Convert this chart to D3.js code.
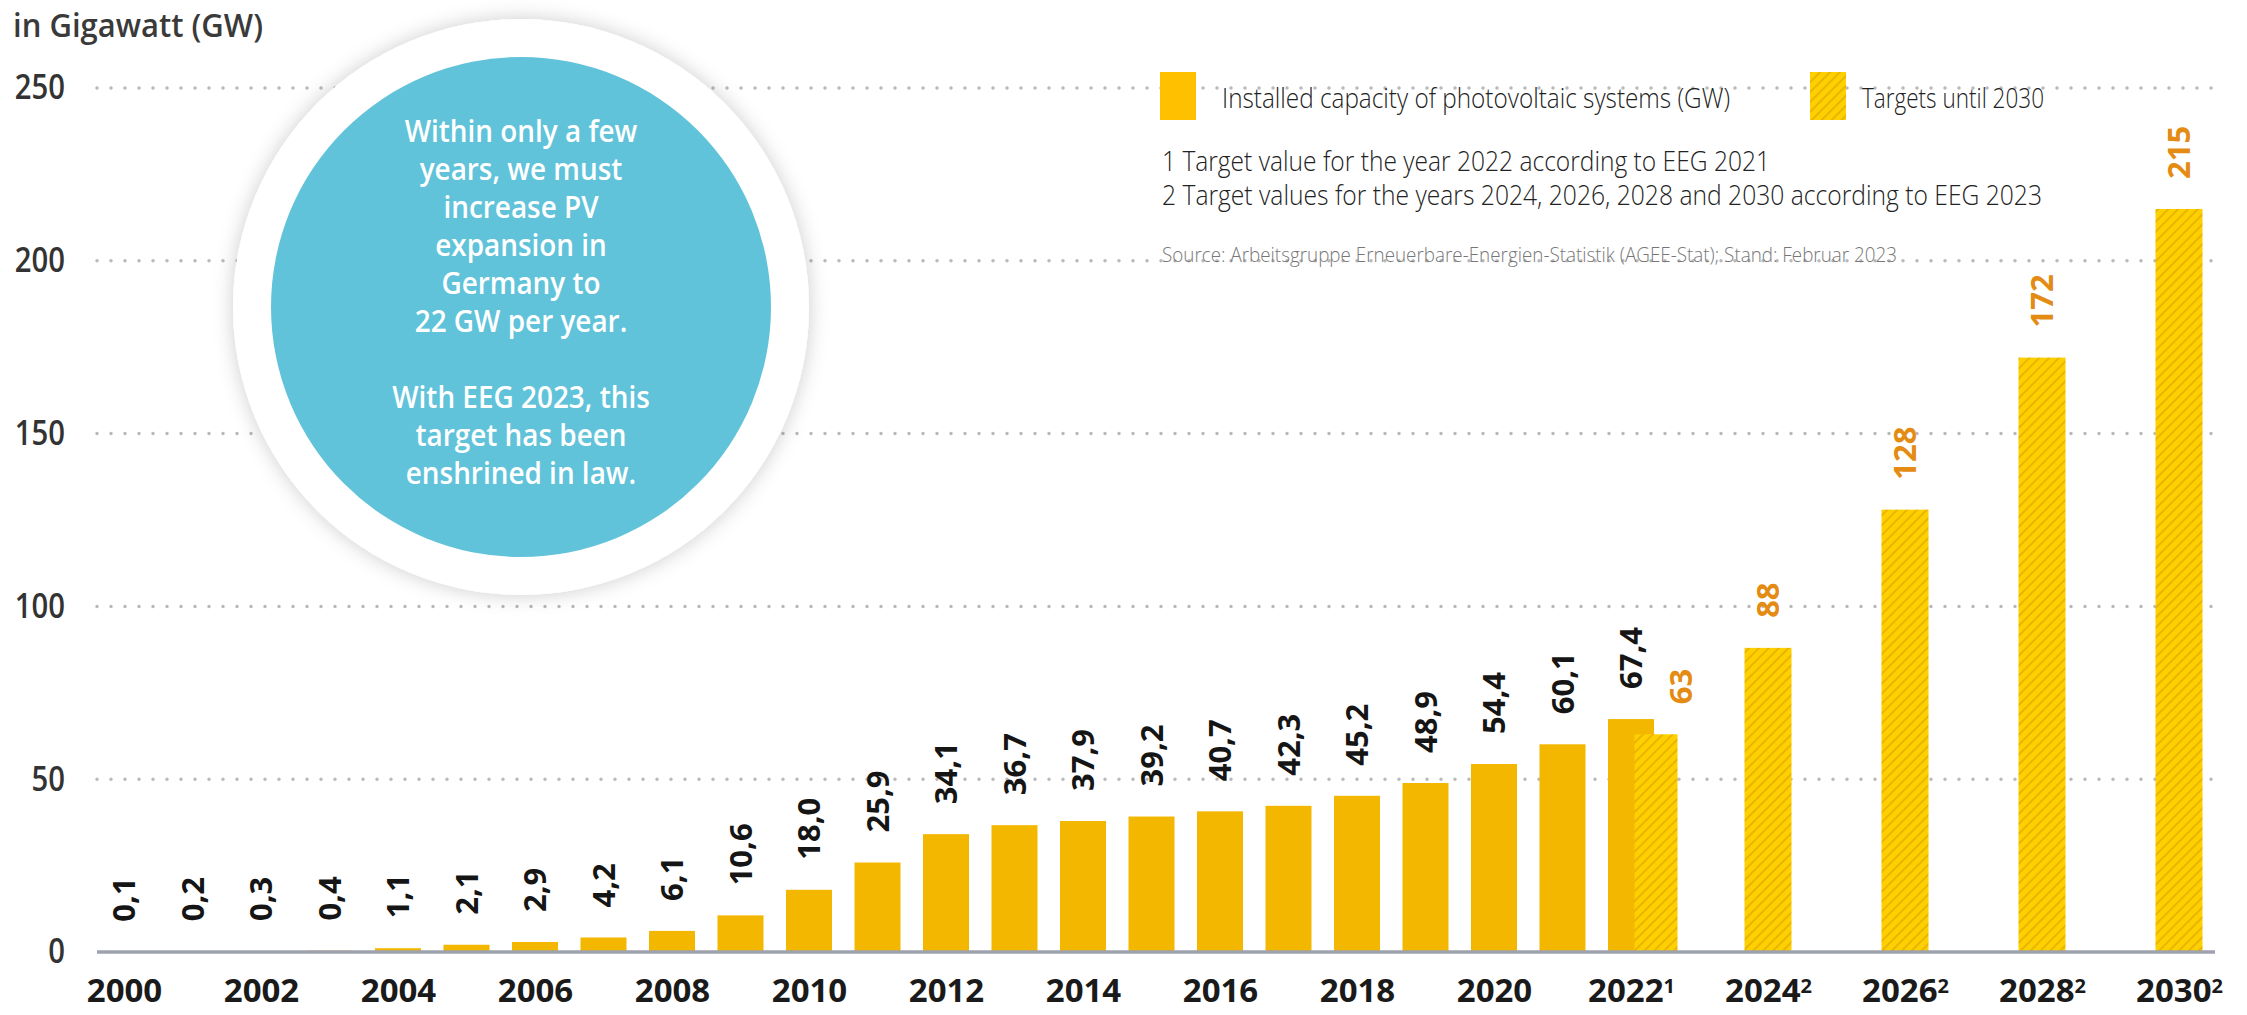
<!DOCTYPE html>
<meta charset="utf-8">
<style>
    body {
        margin: 0;
        overflow: hidden;
        background: #fff;
    }

    text {
        font-family: "Open Sans", sans-serif;
    }
</style>
<div id="container"></div>
<script src="https://cdn.jsdelivr.net/npm/d3@7"></script>
<script>
    // installed PV capacity per year (GW)
    const years = [2000, 2001, 2002, 2003, 2004, 2005, 2006, 2007, 2008, 2009, 2010, 2011,
        2012, 2013, 2014, 2015, 2016, 2017, 2018, 2019, 2020, 2021, 2022];
    const installed = [0.1, 0.2, 0.3, 0.4, 1.1, 2.1, 2.9, 4.2, 6.1, 10.6, 18.0, 25.9,
        34.1, 36.7, 37.9, 39.2, 40.7, 42.3, 45.2, 48.9, 54.4, 60.1, 67.4];

    // targets (EEG 2021 / EEG 2023)
    const targetYears = [2022, 2024, 2026, 2028, 2030];
    const targetValues = [63, 88, 128, 172, 215];

    // axis ticks
    const tickYears = [2000, 2002, 2004, 2006, 2008, 2010, 2012, 2014, 2016, 2018, 2020, 2022, 2024, 2026, 2028, 2030];
    const tickNotes = ["", "", "", "", "", "", "", "", "", "", "", "1", "2", "2", "2", "2"];
    const yTicks = [0, 50, 100, 150, 200, 250];

    const circleLines = ["Within only a few", "years, we must", "increase PV", "expansion in", "Germany to",
        "22 GW per year.", "", "With EEG 2023, this", "target has been", "enshrined in law."];
    const legendLabels = ["Installed capacity of photovoltaic systems (GW)", "Targets until 2030"];
    const footnotes = ["1 Target value for the year 2022 according to EEG 2021",
        "2 Target values for the years 2024, 2026, 2028 and 2030 according to EEG 2023"];
    const source = "Source: Arbeitsgruppe Erneuerbare-Energien-Statistik (AGEE-Stat); Stand: Februar 2023";

    const width = 2247, height = 1015;
    const barW = 46;
    const fmt = v => d3.format(".1f")(v).replace(".", ",");

    const x = d3.scaleLinear().domain([2000, 2030]).range([124, 2179]);
    const y = d3.scaleLinear().domain([0, 250]).range([952, 88]);

    const svg = d3.select("#container").append("svg")
        .attr("width", width)
        .attr("height", height)
        .style("background", "#fff");

    const defs = svg.append("defs");
    const pat = defs.append("pattern")
        .attr("id", "hatch")
        .attr("patternUnits", "userSpaceOnUse")
        .attr("width", 7).attr("height", 7)
        .attr("patternTransform", "rotate(45)");
    pat.append("rect").attr("width", 7).attr("height", 7).attr("fill", "#fdd000");
    pat.append("line").attr("x1", 1).attr("x2", 1).attr("y1", 0).attr("y2", 7)
        .attr("stroke", "#ecb400").attr("stroke-width", 2);

    const shadow = defs.append("filter").attr("id", "shadow")
        .attr("x", "-20%").attr("y", "-20%").attr("width", "140%").attr("height", "140%");
    shadow.append("feDropShadow").attr("dx", 0).attr("dy", 0).attr("stdDeviation", 10)
        .attr("flood-color", "#000").attr("flood-opacity", 0.2);

    // squeeze text horizontally (the source picture is condensed)
    function squeeze(sel, k) {
        sel.each(function () {
            const l = this.getComputedTextLength();
            d3.select(this).attr("textLength", l * k).attr("lengthAdjust", "spacingAndGlyphs");
        });
    }

    // gridlines
    svg.append("g")
        .selectAll("line")
        .data(yTicks.filter(d => d > 0))
        .join("line")
        .attr("x1", 97).attr("x2", 2215)
        .attr("y1", d => y(d)).attr("y2", d => y(d))
        .attr("stroke", "#b9b9b9")
        .attr("stroke-width", 3.5)
        .attr("stroke-linecap", "round")
        .attr("stroke-dasharray", "0,14");

    // y axis labels
    const yAxis = svg.append("g")
        .attr("transform", "translate(65,0)")
        .call(d3.axisLeft(y).tickValues(yTicks).tickSize(0).tickPadding(0));
    yAxis.select(".domain").remove();
    yAxis.selectAll("text")
        .attr("font-size", 34).attr("font-weight", 600).attr("fill", "#333")
        .attr("font-family", "Open Sans");
    squeeze(yAxis.selectAll("text"), 0.86);

    // unit title
    const title = svg.append("text")
        .attr("x", 13).attr("y", 37)
        .attr("font-size", 33).attr("font-weight", 600).attr("fill", "#3a3a3a")
        .text("in Gigawatt (GW)");
    title.attr("textLength", 250).attr("lengthAdjust", "spacingAndGlyphs");

    // circle callout
    const cx = 521, cy = 307;
    svg.append("circle").attr("cx", cx).attr("cy", cy).attr("r", 288)
        .attr("fill", "#fff").attr("filter", "url(#shadow)");
    svg.append("circle").attr("cx", cx).attr("cy", cy).attr("r", 250)
        .attr("fill", "#61c3d9");
    const ct = svg.append("g").selectAll("text")
        .data(circleLines)
        .join("text")
        .attr("x", cx)
        .attr("y", (d, i) => 142 + i * 38)
        .attr("text-anchor", "middle")
        .attr("font-size", 30).attr("font-weight", 600).attr("fill", "#fff")
        .text(d => d);
    squeeze(ct.filter(d => d.length), 0.93);

    // installed bars
    svg.append("g")
        .selectAll("rect")
        .data(years)
        .join("rect")
        .attr("x", d => x(d) - barW / 2)
        .attr("width", barW)
        .attr("y", (d, i) => y(installed[i]))
        .attr("height", (d, i) => y(0) - y(installed[i]))
        .attr("fill", "#f3b700");

    // target bars (2022 sits beside the real value)
    const tOff = d => d === 2022 ? 25 : 0;
    svg.append("g")
        .selectAll("rect")
        .data(targetYears)
        .join("rect")
        .attr("x", d => x(d) + tOff(d) - (d === 2022 ? 43 : 47) / 2)
        .attr("width", d => d === 2022 ? 43 : 47)
        .attr("y", (d, i) => y(targetValues[i]))
        .attr("height", (d, i) => y(0) - y(targetValues[i]))
        .attr("fill", "url(#hatch)");

    // axis line
    svg.append("line")
        .attr("x1", 97).attr("x2", 2215)
        .attr("y1", y(0)).attr("y2", y(0))
        .attr("stroke", "#9ea2ae").attr("stroke-width", 3.5);

    // value labels
    svg.append("g")
        .selectAll("text")
        .data(years)
        .join("text")
        .attr("transform", (d, i) => `translate(${x(d)},${y(installed[i]) - 30}) rotate(-90)`)
        .attr("dy", "0.36em")
        .attr("font-size", 31).attr("font-weight", 700).attr("fill", "#151515")
        .text((d, i) => fmt(installed[i]));

    svg.append("g")
        .selectAll("text")
        .data(targetYears)
        .join("text")
        .attr("transform", (d, i) => `translate(${x(d) + tOff(d) * 2},${y(targetValues[i]) - 30}) rotate(-90)`)
        .attr("dy", "0.36em")
        .attr("font-size", 31).attr("font-weight", 700).attr("fill", "#e38b12")
        .text((d, i) => targetValues[i]);

    // x axis labels
    const xAxis = svg.append("g")
        .attr("transform", `translate(0,${y(0)})`)
        .call(d3.axisBottom(x).tickValues(tickYears).tickSize(0).tickPadding(27).tickFormat(d3.format("d")));
    xAxis.select(".domain").remove();
    xAxis.selectAll("text")
        .attr("font-size", 33).attr("font-weight", 700).attr("fill", "#1a1a1a")
        .attr("font-family", "Open Sans")
        .each(function (d, i) {
            if (tickNotes[i]) {
                d3.select(this).append("tspan")
                    .attr("dy", "-0.45em").attr("font-size", 20)
                    .text(tickNotes[i]);
            }
        });

    // legend
    const lg = svg.append("g");
    lg.append("rect").attr("x", 1160).attr("y", 72).attr("width", 36).attr("height", 48).attr("fill", "#ffc000");
    lg.append("rect").attr("x", 1810).attr("y", 72).attr("width", 36).attr("height", 48).attr("fill", "url(#hatch)");
    lg.selectAll("text.leg")
        .data(legendLabels)
        .join("text")
        .attr("class", "leg")
        .attr("x", (d, i) => i === 0 ? 1222 : 1862)
        .attr("y", 108)
        .attr("font-family", "Lato").attr("font-weight", 300)
        .attr("font-size", 28).attr("fill", "#222")
        .attr("textLength", (d, i) => i === 0 ? 508 : 182)
        .attr("lengthAdjust", "spacingAndGlyphs")
        .text(d => d);

    lg.selectAll("text.fn")
        .data(footnotes)
        .join("text")
        .attr("class", "fn")
        .attr("x", 1162)
        .attr("y", (d, i) => 171 + i * 34)
        .attr("font-family", "Lato").attr("font-weight", 300)
        .attr("font-size", 28).attr("fill", "#222")
        .attr("textLength", (d, i) => i === 0 ? 608 : 880)
        .attr("lengthAdjust", "spacingAndGlyphs")
        .text(d => d);

    lg.append("text")
        .attr("x", 1162).attr("y", 262)
        .attr("font-family", "Lato").attr("font-weight", 300)
        .attr("font-size", 21).attr("fill", "#777")
        .attr("textLength", 735)
        .attr("lengthAdjust", "spacingAndGlyphs")
        .text(source);
</script>
